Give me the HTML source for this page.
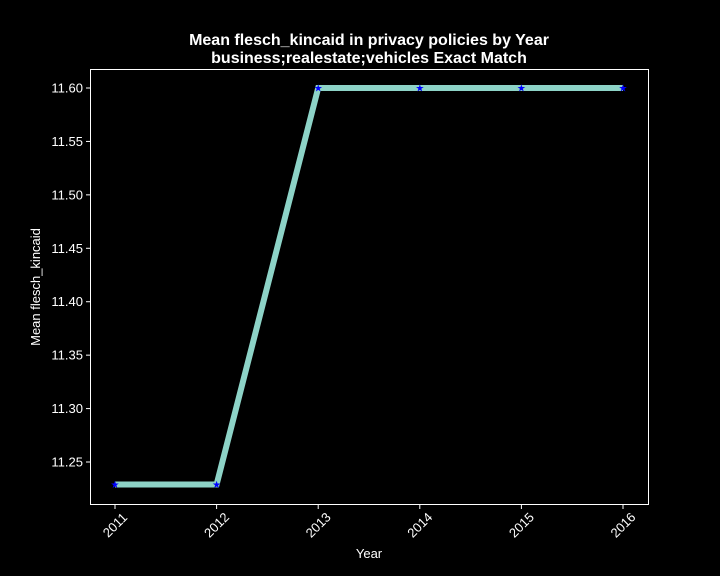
<!DOCTYPE html>
<html><head><meta charset="utf-8"><style>
body{margin:0;background:#000;}
svg{display:block;font-family:"Liberation Sans","DejaVu Sans",sans-serif;}
</style></head><body>
<svg id="chart" width="720" height="576">
<rect width="720" height="576" fill="#000"/>
<text x="369" y="45" text-anchor="middle" fill="#fff" font-size="16" font-weight="bold">Mean flesch_kincaid in privacy policies by Year</text>
<text x="369" y="63" text-anchor="middle" fill="#fff" font-size="16" font-weight="bold">business;realestate;vehicles Exact Match</text>
<rect x="90.5" y="69.5" width="558" height="435" fill="none" stroke="#fff" stroke-width="1"/>
<g id="yt"></g>
<g id="xt"></g>
<text x="0" y="0" transform="translate(40,287) rotate(-90)" text-anchor="middle" fill="#fff" font-size="13">Mean flesch_kincaid</text>
<text x="369" y="558" text-anchor="middle" fill="#fff" font-size="13">Year</text>
<g id="series"></g>
</svg>
<script>
const years=[2011,2012,2013,2014,2015,2016];
const values=[11.229,11.229,11.6,11.6,11.6,11.6];
const yTicks=[11.25,11.30,11.35,11.40,11.45,11.50,11.55,11.60];
const NS="http://www.w3.org/2000/svg";
function xS(y){return 115+(y-2011)*101.6;}
function yS(v){return 88+(11.6-v)/0.05*53.43;}
function mk(t,a,p){const e=document.createElementNS(NS,t);for(const k in a)e.setAttribute(k,a[k]);p.appendChild(e);return e;}
const yt=document.getElementById('yt'),xt=document.getElementById('xt'),sg=document.getElementById('series');
yTicks.forEach(v=>{const y=yS(v);
 const l=mk('line',{x1:86,x2:90,y1:y,y2:y,stroke:'#fff'},yt);
 
 
 const t=mk('text',{x:83,y:y+4.5,'text-anchor':'end',fill:'#fff','font-size':13},yt);t.textContent=v.toFixed(2);
 
 
});
years.forEach(yr=>{const x=xS(yr);
 const l=mk('line',{x1:x,x2:x,y1:505,y2:509,stroke:'#fff'},xt);
 
 
 const t=mk('text',{x:0,y:4.5,transform:`translate(${x},${525}) rotate(-45)`,'text-anchor':'middle',fill:'#fff','font-size':13},xt);t.textContent=yr;
 
 
});
const pts=years.map((yr,i)=>xS(yr)+','+yS(values[i])).join(' ');
const pl=mk('polyline',{points:pts,fill:'none',stroke:'#8dd3c7','stroke-width':6},sg);


years.forEach((yr,i)=>{
 const m=mk('text',{x:xS(yr),y:yS(values[i])+3.5,'text-anchor':'middle',fill:'#0000ff','font-size':10},sg);m.textContent='★';
 
 
});
</script>
</body></html>
